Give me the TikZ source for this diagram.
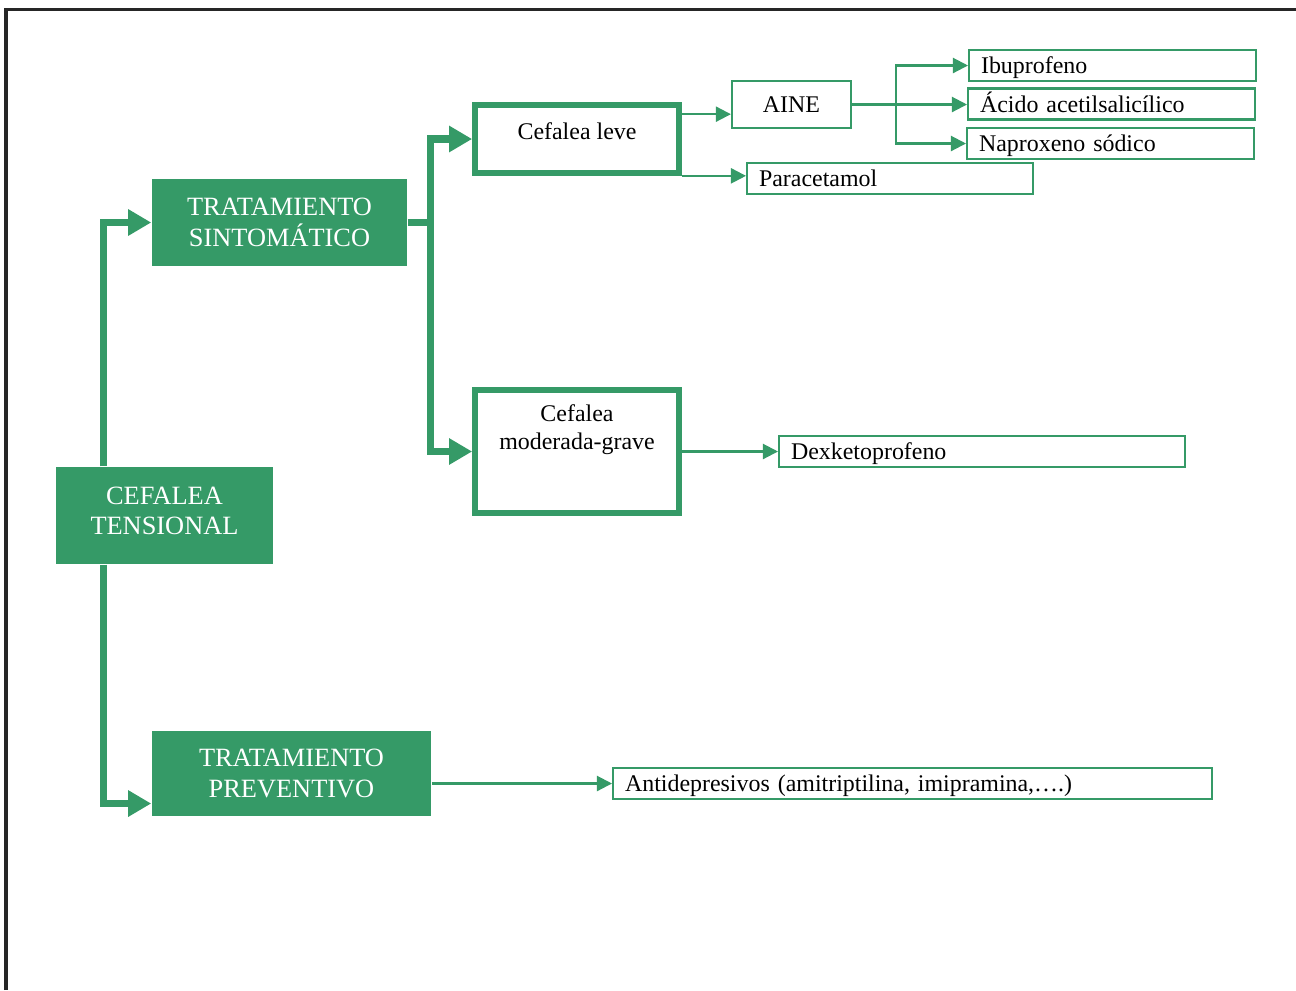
\documentclass[tikz,border=0pt]{standalone}
\usepackage{fontspec}
\setmainfont{Liberation Serif}
\usetikzlibrary{arrows.meta}
\definecolor{tgreen}{RGB}{53,154,103}

\begin{document}
\begin{tikzpicture}[x=0.01cm,y=-0.01cm,
    mainbox/.style={fill=tgreen,text=white,align=center,inner sep=0pt,
      font=\fontsize{7.5}{8.7}\selectfont},
    maintext/.style={anchor=north,yshift=-0.20cm,text=white,align=center,inner sep=0pt,
      font=\fontsize{7.5}{8.5}\selectfont},
    casebox/.style={draw=tgreen,line width=1.6pt,minimum width=2.04cm,inner sep=0pt,
      font=\fontsize{6.8}{8}\selectfont},
    casetext/.style={anchor=north,yshift=-0.17cm,align=center,inner sep=0pt,
      font=\fontsize{6.8}{8}\selectfont},
    drugbox/.style={draw=tgreen,line width=0.6pt,anchor=west,align=left,
      minimum height=0.31cm,inner xsep=0.12cm,inner ysep=0pt,
      text height=0.19cm,text depth=0.03cm,font=\fontsize{6.8}{8}\selectfont},
    bigarrow/.style={tgreen,line width=2pt,-{Triangle[length=0.23cm,width=0.25cm]}},
    smallarrow/.style={tgreen,line width=0.6pt,-{Triangle[length=0.15cm,width=0.15cm]}}]
          \useasboundingbox (0,0) rectangle (1296,990);
          % page frame
          \draw[line width=0.03cm,black!85] (6,990) -- (6,9) -- (1296,9);

          \node (cef) [mainbox,minimum width=2.17cm,minimum height=0.97cm,
            label={[maintext]north:CEFALEA\\TENSIONAL}] at (164.5,515.5) {};
          \node (sint) [mainbox,minimum width=2.55cm,minimum height=0.87cm] at (279.5,222.5) {TRATAMIENTO\\SINTOMÁTICO};
          \node (prev) [mainbox,minimum width=2.79cm,minimum height=0.85cm] at (291.5,773.5) {TRATAMIENTO\\PREVENTIVO};

          \node (leve) [casebox,minimum height=0.68cm,text height=0.16cm,text depth=0.16cm] at (577,139) {Cefalea leve};
          \node (mod) [casebox,minimum height=1.23cm,
            label={[casetext]north:Cefalea\\moderada-grave}] at (577,451.5) {};

          \node (aine) [drugbox,anchor=center,align=center,minimum width=1.19cm,minimum height=0.47cm] at (791.5,104.5) {AINE};
          \node (ibu) [drugbox,text width=2.63cm] at (968,65.5) {Ibuprofeno};
          \node (acido) [drugbox,text width=2.63cm] at (967,104) {Ácido acetilsalicílico};
          \node (napro) [drugbox,text width=2.63cm] at (966,143.5) {Naproxeno sódico};
          \node (para) [drugbox,text width=2.62cm] at (746,178.5) {Paracetamol};
          \node (dex) [drugbox,text width=3.82cm] at (778,451.5) {Dexketoprofeno};
          \node (anti) [drugbox,text width=5.75cm] at (612,783.5) {Antidepresivos (amitriptilina, imipramina,….)};

          % thick branches
          \draw[bigarrow] ([xshift=0.48cm]cef.north west) |- (sint.west);
          \draw[bigarrow] ([xshift=0.48cm]cef.south west) |- ([yshift=-0.3cm]prev.west);
          \draw[tgreen,line width=2pt] (sint.east) -- ++(0.23cm,0) coordinate (split);
          \draw[bigarrow] (split) |- (leve.west);
          \draw[bigarrow] (split) |- (mod.west);

          % thin branches
          \draw[smallarrow] ([yshift=-0.12cm]leve.north east) coordinate (a) -- (a -| aine.west);
          \draw[smallarrow] (leve.south east) -- (leve.south east -| para.west);
          \draw[smallarrow] (aine.east) -- (aine.east -| acido.west);
          \draw[smallarrow] ([xshift=0.44cm]aine.east) coordinate (fork) |- (ibu.west);
          \draw[smallarrow] (fork) |- (napro.west);
          \draw[smallarrow] (mod.east) -- (dex.west);
          \draw[smallarrow] (prev.east |- anti.west) -- (anti.west);
        \end{tikzpicture}
\end{document}
